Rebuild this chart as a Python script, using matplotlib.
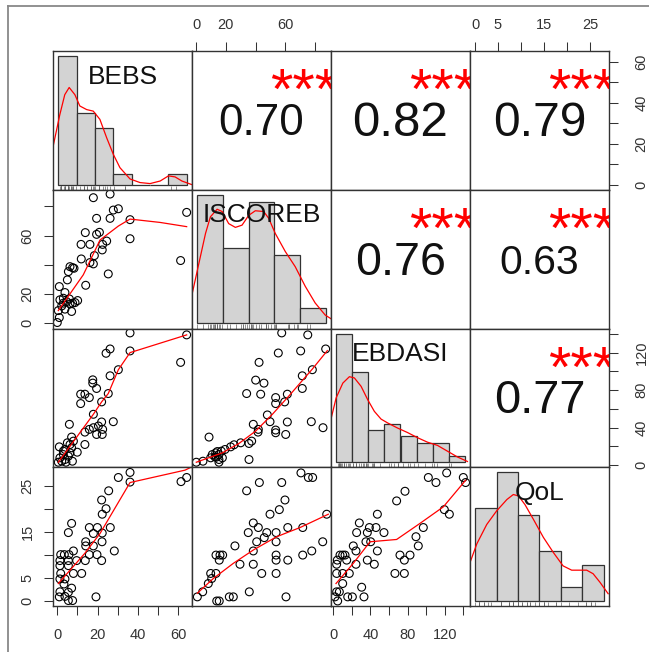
import numpy as np
from matplotlib import pyplot as plt
from matplotlib.lines import Line2D

plt.rcParams['font.family'] = ['Liberation Sans', 'DejaVu Sans']

names = ['BEBS', 'ISCOREB', 'EBDASI', 'QoL']

# correlation panel texts (row, col) -> r
corr = {(0, 1): 0.70, (0, 2): 0.82, (0, 3): 0.79,
        (1, 2): 0.76, (1, 3): 0.63, (2, 3): 0.77}
signif = '***'

# histogram breaks and counts
hist_breaks = [np.arange(0, 71, 10), np.arange(0, 101, 20),
               np.arange(0, 161, 20), np.arange(0, 31, 5)]
hist_counts = [[25, 14, 11, 2, 0, 0, 2],
               [17, 10, 16, 9, 2],
               [20, 14, 5, 6, 4, 3, 3, 1],
               [13, 18, 12, 7, 2, 5]]

# density curves (in count units)
dens_x = [[-2.7, 0.9, 3.6, 6.0, 9.1, 11.8, 15.5, 19.1, 22.7, 26.4, 30.0, 33.6, 39.1, 44.5, 50.0, 55.5, 60.0, 63.6, 67.3, 72.7],
          [-4.4, 1.3, 6.5, 10.3, 15.5, 19.4, 24.5, 29.7, 34.9, 40.1, 45.2, 51.7, 55.6, 60.7, 68.5, 76.2, 84.0, 91.7, 99.5, 104.1],
          [-7.0, 0.0, 8.3, 16.5, 22.7, 31.0, 39.3, 47.5, 55.8, 64.0, 76.4, 88.8, 101.2, 113.6, 126.0, 138.4, 150.8, 163.2],
          [-1.3, 0.4, 2.7, 5.0, 7.4, 8.9, 10.1, 11.6, 13.6, 15.9, 18.2, 20.5, 22.5, 24.4, 26.0, 27.5, 29.1, 31.0]]
dens_y = [[7.5, 13.6, 17.5, 18.9, 17.5, 15.3, 14.6, 14.3, 12.7, 9.1, 5.9, 3.3, 1.1, 0.4, 0.2, 0.7, 1.7, 1.5, 0.7, 0.0],
          [3.5, 7.9, 11.9, 14.1, 15.1, 14.8, 13.2, 12.7, 13.0, 14.3, 14.9, 14.8, 13.9, 11.9, 9.5, 7.5, 4.9, 2.7, 1.1, 0.6],
          [6.4, 10.0, 12.3, 13.3, 13.1, 11.8, 9.7, 7.9, 6.7, 6.1, 5.3, 4.6, 3.8, 3.1, 2.6, 1.7, 0.8, 0.1],
          [5.2, 8.0, 10.7, 12.6, 14.2, 14.9, 14.7, 13.5, 11.4, 8.9, 6.8, 4.9, 4.3, 4.3, 4.3, 3.8, 2.6, 1.0]]

# scatter panels
bi_x = [17.9, 26.2, 27.8, 30.3, 19.5, 26.2, 36.1, 64.2, 36.1, 61.2, 13.9, 19.5, 20.9, 24.5, 11.8, 16.2, 22.5, 22.3, 18.4, 11.9, 16.2, 17.9, 25.3, 6.3, 7.6, 5.5, 8.3, 5.0, 14.1, 1.0, 3.8, 1.3, 3.0, 4.6, 6.0, 7.6, 10.1, 2.2, 3.8, 7.1, 0.5, 1.0, 0.0, 6.3, 8.8, 3.0]
bi_y = [86.0, 88.5, 77.5, 78.4, 71.8, 71.8, 70.9, 75.9, 57.8, 42.8, 62.0, 60.8, 62.2, 56.2, 53.9, 53.9, 53.9, 50.1, 46.2, 43.9, 41.4, 40.5, 33.6, 38.6, 37.9, 35.2, 37.5, 29.5, 25.8, 24.9, 20.8, 15.8, 16.9, 14.6, 16.4, 13.5, 15.3, 11.6, 9.4, 7.8, 8.4, 3.6, 0.2, 13.0, 13.9, 13.5]
bi_fx = [0.5, 12.9, 21.2, 30.3, 36.1, 51.0, 64.2]
bi_fy = [8.4, 33.0, 56.9, 66.5, 71.3, 69.0, 66.1]

be_x = [36.1, 64.2, 36.1, 61.2, 24.2, 26.2, 30.3, 26.2, 17.6, 17.6, 19.5, 11.6, 13.7, 15.9, 25.3, 11.6, 22.0, 17.9, 6.0, 27.8, 22.0, 20.4, 17.9, 15.9, 13.7, 22.5, 19.5, 22.3, 7.1, 5.0, 1.0, 6.3, 13.7, 8.0, 3.8, 7.1, 9.9, 3.0, 5.5, 1.3, 3.8, 7.5, 0.5, 2.2, 6.3, 4.3, 3.0]
be_y = [141.0, 138.9, 121.8, 109.6, 119.3, 123.9, 101.8, 95.3, 91.0, 87.5, 81.8, 75.7, 75.7, 72.1, 76.4, 65.7, 67.5, 54.3, 43.6, 46.4, 46.1, 41.8, 40.0, 38.2, 35.3, 38.2, 32.8, 32.8, 30.0, 23.9, 19.6, 22.1, 22.1, 25.7, 16.8, 18.6, 13.9, 11.4, 9.6, 7.9, 6.1, 4.3, 3.2, 4.3, 13.2, 3.2, 15.0]
be_fx = [0.5, 17.9, 22.0, 25.3, 30.3, 36.1, 64.2]
be_fy = [3.2, 54.3, 67.5, 76.4, 101.8, 120.0, 138.9]

bq_x = [36.1, 30.3, 36.1, 61.4, 64.2, 25.5, 22.0, 24.2, 22.3, 7.1, 5.5, 15.9, 19.9, 26.3, 17.9, 22.3, 14.1, 14.1, 17.9, 22.2, 3.5, 1.7, 8.0, 5.8, 15.9, 19.7, 28.3, 1.3, 5.5, 9.6, 13.9, 22.0, 1.3, 5.5, 1.7, 8.0, 12.1, 3.8, 1.3, 3.3, 7.1, 1.3, 5.5, 3.8, 1.0, 5.5, 7.6, 19.2]
bq_y = [28.0, 26.9, 25.9, 26.0, 26.9, 24.0, 22.0, 20.1, 18.9, 16.9, 14.9, 16.0, 16.0, 16.0, 14.7, 14.8, 12.9, 12.0, 12.0, 12.9, 10.1, 10.1, 10.9, 10.1, 10.1, 10.1, 10.9, 8.8, 8.8, 8.8, 8.8, 8.8, 7.7, 7.7, 6.0, 6.0, 6.0, 4.8, 4.8, 3.7, 2.8, 2.0, 1.9, 1.0, 0.9, 0.1, 0.1, 0.9]
bq_fx = [0.5, 13.7, 21.2, 36.1, 63.4, 66.7]
bq_fy = [3.8, 10.4, 14.7, 25.8, 28.5, 29.2]

ie_x = [57.7, 75.3, 87.4, 70.5, 55.4, 42.4, 78.4, 71.6, 71.6, 40.1, 45.7, 34.0, 43.5, 53.6, 61.5, 53.6, 59.7, 48.0, 49.8, 38.5, 61.5, 77.7, 85.6, 41.9, 41.7, 53.6, 53.6, 60.4, 8.6, 37.4, 35.6, 30.0, 25.5, 23.2, 19.4, 16.9, 14.2, 13.1, 10.8, 15.3, 12.6, 9.7, 15.3, 15.3, 35.6, 4.5, 0.0, 13.5, 17.6]
ie_y = [141.0, 138.9, 123.9, 121.8, 119.6, 109.6, 101.8, 95.3, 81.8, 90.7, 87.5, 76.4, 75.7, 72.1, 75.7, 65.7, 67.5, 53.6, 46.4, 43.6, 46.1, 46.4, 40.0, 38.2, 35.3, 37.5, 34.6, 32.8, 30.0, 25.7, 23.2, 23.9, 21.8, 19.6, 16.8, 15.0, 14.6, 13.2, 11.4, 11.4, 8.9, 7.9, 6.1, 3.2, 6.1, 4.3, 3.2, 8.6, 7.9]
ie_fx = [0.0, 17.6, 28.8, 40.1, 51.4, 62.6, 78.4, 88.5]
ie_fy = [3.2, 13.2, 23.2, 36.4, 54.3, 73.9, 102.5, 122.1]

iq_x = [70.7, 75.7, 78.6, 57.7, 42.6, 34.0, 88.1, 56.1, 49.8, 59.9, 38.5, 35.1, 41.9, 47.6, 53.9, 61.8, 71.9, 45.9, 40.8, 38.5, 53.9, 85.4, 78.0, 26.1, 13.3, 16.0, 17.8, 15.5, 29.5, 38.5, 53.9, 53.9, 61.8, 71.9, 44.2, 53.9, 9.7, 13.3, 10.4, 8.1, 4.3, 0.7, 13.8, 15.5, 22.3, 25.0, 35.8, 60.6]
iq_y = [27.9, 26.9, 26.9, 25.8, 25.8, 24.0, 18.9, 19.9, 18.9, 22.0, 17.0, 14.9, 16.0, 14.9, 14.9, 16.0, 16.0, 13.8, 12.9, 10.9, 12.9, 12.9, 10.9, 12.0, 10.0, 10.0, 10.0, 8.9, 8.0, 8.0, 10.0, 8.9, 8.9, 10.0, 6.0, 6.0, 6.0, 6.0, 4.9, 3.8, 2.0, 0.9, 0.0, 0.0, 0.9, 0.9, 2.0, 0.9]
iq_fx = [0.7, 11.5, 25.0, 38.5, 54.3, 70.1, 89.2]
iq_fy = [1.7, 4.9, 8.2, 11.1, 14.0, 16.0, 18.9]

eq_x = [102.2, 110.4, 121.9, 139.8, 142.3, 77.1, 68.1, 119.4, 124.8, 47.4, 28.0, 38.8, 45.9, 54.5, 25.1, 36.6, 35.1, 40.2, 88.9, 96.8, 91.4, 47.4, 21.5, 24.4, 71.7, 82.5, 76.4, 7.2, 10.1, 12.6, 4.3, 14.4, 24.4, 36.6, 44.1, 3.6, 3.6, 66.3, 76.4, 10.1, 17.2, 10.1, 3.6, 30.5, 33.0, 15.5, 20.5, 1.8, 4.7, 6.5]
eq_y = [26.9, 25.8, 27.9, 26.9, 25.8, 23.9, 21.8, 19.9, 18.9, 18.9, 17.0, 16.0, 16.0, 14.9, 14.9, 14.9, 12.9, 12.9, 14.0, 16.0, 12.0, 10.9, 12.0, 10.9, 10.0, 10.0, 8.9, 10.0, 10.0, 10.0, 8.9, 8.9, 8.0, 8.9, 8.0, 8.0, 6.0, 6.0, 6.0, 6.0, 6.0, 3.8, 2.0, 3.0, 0.9, 0.9, 0.9, 0.9, 0.0, 2.0]
eq_fx = [2.9, 21.5, 39.5, 68.1, 93.2, 118.3, 142.3]
eq_fy = [3.8, 8.2, 12.9, 13.4, 16.9, 20.5, 26.3]

scatters = {(1, 0): (bi_x, bi_y, bi_fx, bi_fy),
            (2, 0): (be_x, be_y, be_fx, be_fy),
            (3, 0): (bq_x, bq_y, bq_fx, bq_fy),
            (2, 1): (ie_x, ie_y, ie_fx, ie_fy),
            (3, 1): (iq_x, iq_y, iq_fx, iq_fy),
            (3, 2): (eq_x, eq_y, eq_fx, eq_fy)}

rugs = [bq_x, ie_x, eq_x, eq_y]

# axis ticks and which tick labels R printed
ticks = [list(range(0, 61, 10)), list(range(0, 81, 20)), list(range(0, 141, 20)), list(range(0, 26, 5))]
shown = [[0, 20, 40, 60], [0, 20, 60], [0, 40, 80, 120], [0, 5, 15, 25]]

# panel limits in each direction
xlims = [(-2.13, 66.85), (-2.91, 91.0), (-2.47, 147.0), (-1.09, 29.13)]
ylims = [(-2.43, 65.2), (-3.91, 91.46), (-2.14, 145.7), (-1.09, 29.13)]

W, H = 649, 652
fig = plt.figure(figsize=(W / 100, H / 100), dpi=100)

col_edges = [53, 192, 331, 470, 609]
row_edges = [51, 189.75, 328.5, 467.25, 606]

fc = '#333333'

def tick_labels(i):
    return [str(t) if t in shown[i] else '' for t in ticks[i]]

for r in range(4):
    for c in range(4):
        l = col_edges[c] / W
        b = 1 - row_edges[r + 1] / H
        w = (col_edges[c + 1] - col_edges[c]) / W
        h = (row_edges[r + 1] - row_edges[r]) / H
        ax = fig.add_axes([l, b, w, h])
        for sp in ax.spines.values():
            sp.set_color(fc)
            sp.set_linewidth(1.0)
        ax.set_xticks([])
        ax.set_yticks([])

        if r == c:
            br = hist_breaks[r]
            cnt = hist_counts[r]
            rng = br[-1] - br[0]
            m = max(cnt)
            ax.set_xlim(br[0] - 0.04 * rng, br[-1] + 0.04 * rng)
            ax.set_ylim(-0.04 * m, 1.04 * m)
            ax.bar(br[:-1], cnt, width=br[1] - br[0], align='edge',
                   color='#d3d3d3', edgecolor=fc, linewidth=0.9)
            ax.plot(dens_x[r], dens_y[r], color='red', lw=0.9)
            ax.vlines(rugs[r], 0, 0.03, transform=ax.get_xaxis_transform(),
                      colors='#666666', lw=0.5)
            ax.text(0.5, 0.815, names[r], transform=ax.transAxes, ha='center',
                    va='center', fontsize=19, color='#111111')
            continue

        ax.set_xlim(xlims[c])
        ax.set_ylim(ylims[r])

        if r > c:
            x, y, fx, fy = scatters[(r, c)]
            ax.scatter(x, y, s=32, facecolors='none', edgecolors='black', linewidths=0.8)
            ax.plot(fx, fy, color='red', lw=0.9)
        else:
            rv = corr[(r, c)]
            ax.text(0.5, 0.475, '%.2f' % rv, transform=ax.transAxes, ha='center',
                    va='center', fontsize=31.7 * (abs(rv) + 0.3), color='#111111')
            st = ax.text(0.8, 0.69, signif, transform=ax.transAxes, ha='center',
                         va='center', fontsize=31.7 * 1.3, color='red', clip_on=True)
            st.set_clip_path(ax.patch)

        tk = dict(length=6.5, width=0.75, color=fc, labelsize=10.5, labelcolor=fc)
        if r == 3 and c in (0, 2):
            ax.set_xticks(ticks[c])
            ax.set_xticklabels(tick_labels(c))
            ax.tick_params(axis='x', bottom=True, pad=9.5, **tk)
        if r == 0 and c in (1, 3):
            ax.set_xticks(ticks[c])
            ax.set_xticklabels(tick_labels(c))
            ax.tick_params(axis='x', top=True, bottom=False, labeltop=True,
                           labelbottom=False, pad=7.2, **tk)
        if c == 0 and r in (1, 3):
            ax.set_yticks(ticks[r])
            ax.set_yticklabels(tick_labels(r), rotation=90, va='center')
            ax.tick_params(axis='y', left=True, pad=6.7, **tk)
        if c == 3 and r in (0, 2):
            ax.set_yticks(ticks[r])
            ax.set_yticklabels(tick_labels(r), rotation=90, va='center')
            ax.tick_params(axis='y', right=True, left=False, labelright=True,
                           labelleft=False, pad=12, **tk)

# outer frame of the original figure (only top and left edges are visible)
fig.add_artist(Line2D([8.3 / W, 8.3 / W], [0, 1 - 6 / H], transform=fig.transFigure,
                      color='#888888', lw=1.3))
fig.add_artist(Line2D([8.3 / W, 1], [1 - 6 / H, 1 - 6 / H], transform=fig.transFigure,
                      color='#888888', lw=1.3))

fig.savefig('out.png', dpi=100)
